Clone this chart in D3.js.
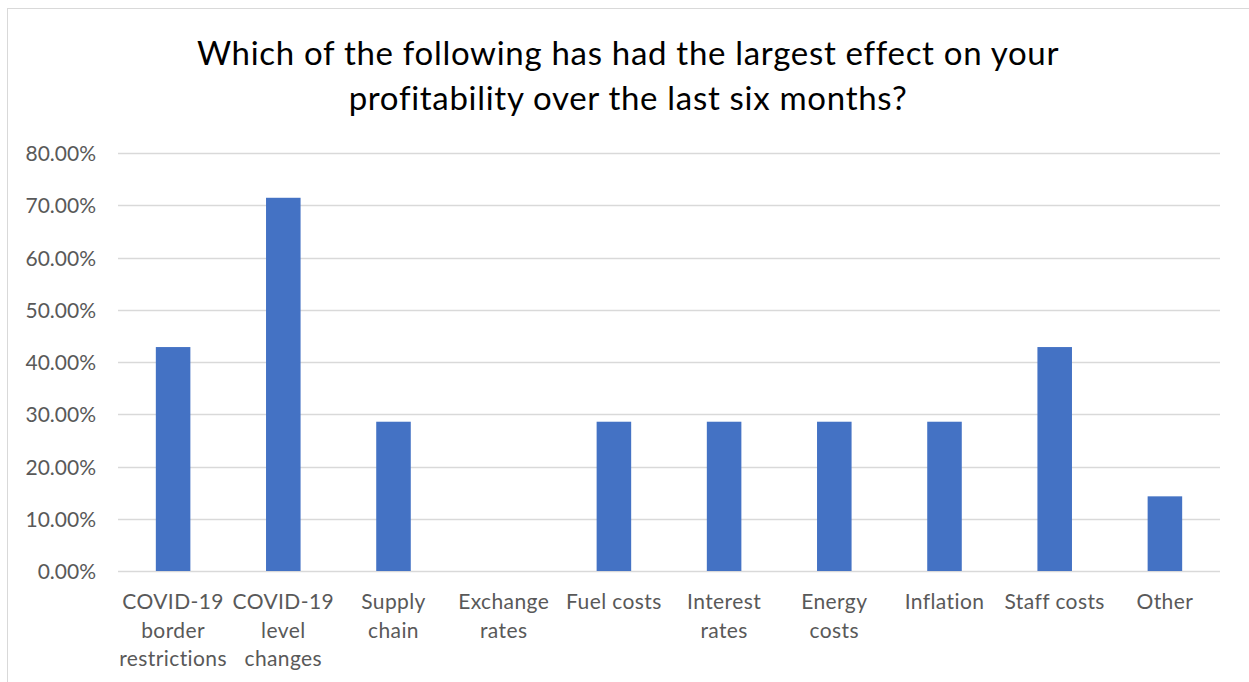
<!DOCTYPE html>
<html>
<head>
<meta charset="utf-8">
<script src="https://cdn.jsdelivr.net/npm/d3@7"></script>
<style>
  html, body { margin: 0; padding: 0; background: #fff; }
  svg { display: block; font-family: Lato, "Open Sans", sans-serif; }
</style>
</head>
<body>
<svg id="chart" width="1249" height="682"></svg>
<script>
// Survey responses: share of respondents naming each factor
const categories = [
  ["COVID-19", "border", "restrictions"],
  ["COVID-19", "level", "changes"],
  ["Supply", "chain"],
  ["Exchange", "rates"],
  ["Fuel costs"],
  ["Interest", "rates"],
  ["Energy", "costs"],
  ["Inflation"],
  ["Staff costs"],
  ["Other"]
];
const values = [0.4286, 0.7143, 0.2857, 0, 0.2857, 0.2857, 0.2857, 0.2857, 0.4286, 0.1429];
const yTicks = [0, 0.1, 0.2, 0.3, 0.4, 0.5, 0.6, 0.7, 0.8];
const titleLines = [
  "Which of the following has had the largest effect on your",
  "profitability over the last six months?"
];

const svg = d3.select("#chart");
const W = 1249, H = 682;
const plot = { left: 118, right: 1220, top: 153, bottom: 571 };

// chart frame
svg.append("rect")
  .attr("x", 7.5).attr("y", 8.5)
  .attr("width", W + 10).attr("height", H + 10)
  .attr("fill", "#fff").attr("stroke", "#d9d9d9").attr("stroke-width", 1);

const keys = categories.map((d, i) => i);
const x = d3.scaleBand().domain(keys).range([plot.left, plot.right]).paddingInner(0).paddingOuter(0);
const y = d3.scaleLinear().domain([0, 0.8]).range([plot.bottom, plot.top]);
const barW = x.bandwidth() / 3.19;

// gridlines
svg.append("g")
  .selectAll("line").data(yTicks).join("line")
  .attr("x1", plot.left).attr("x2", plot.right)
  .attr("y1", d => Math.round(y(d)) + 0.5).attr("y2", d => Math.round(y(d)) + 0.5)
  .attr("stroke", "#d9d9d9").attr("stroke-width", 1.3);

// y axis labels
const yAxis = d3.axisLeft(y).tickValues(yTicks).tickFormat(d3.format(".2%")).tickSize(0).tickPadding(0);
const yg = svg.append("g").attr("transform", `translate(${96},0)`).call(yAxis);
yg.select(".domain").remove();
yg.selectAll("text")
  .attr("fill", "#595959").attr("font-size", 21).attr("font-family", "Lato, sans-serif")
  .attr("dy", "0.36em");

// bars
svg.append("g")
  .selectAll("rect").data(values).join("rect")
  .attr("x", (d, i) => x(i) + (x.bandwidth() - barW) / 2)
  .attr("width", barW)
  .attr("y", d => y(d))
  .attr("height", d => y(0) - y(d))
  .attr("fill", "#4472c4");

// category labels
const xg = svg.append("g");
categories.forEach((lines, i) => {
  const cx = x(i) + x.bandwidth() / 2;
  const t = xg.append("text")
    .attr("x", cx)
    .attr("y", 609)
    .attr("text-anchor", "middle")
    .attr("fill", "#595959")
    .attr("font-size", 21)
    .attr("letter-spacing", 0.4);
  lines.forEach((ln, j) => {
    t.append("tspan").attr("x", cx).attr("dy", j === 0 ? 0 : 28.5).text(ln);
  });
});

// title
const title = svg.append("text")
  .attr("x", 628).attr("y", 65)
  .attr("text-anchor", "middle")
  .attr("fill", "#000")
  .attr("font-size", 33)
  .attr("letter-spacing", 0.7);
titleLines.forEach((ln, j) => {
  title.append("tspan").attr("x", 628).attr("dy", j === 0 ? 0 : 44.5).text(ln);
});
</script>
</body>
</html>
